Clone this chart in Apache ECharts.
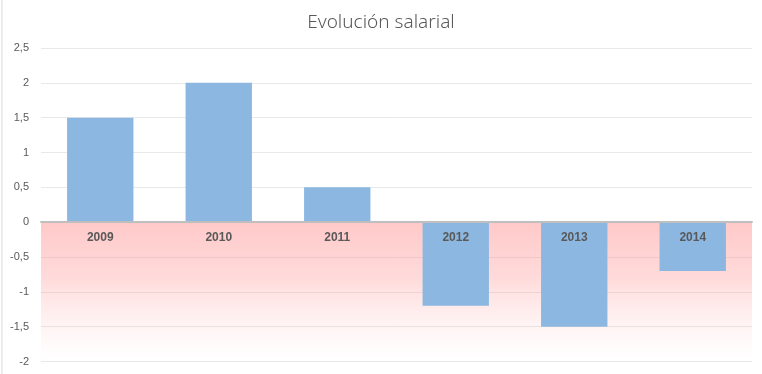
<!DOCTYPE html>
<html>
<head>
<meta charset="utf-8">
<script src="https://cdn.jsdelivr.net/npm/echarts@6/dist/echarts.min.js"></script>
<style>html,body{margin:0;padding:0;background:#fff}#c{width:762px;height:374px}</style>
</head>
<body>
<div id="c"></div>
<script>
var titleText = 'Evolución salarial';
var categories = ['2009', '2010', '2011', '2012', '2013', '2014'];
var values = [1.5, 2, 0.5, -1.2, -1.5, -0.7];
var yMin = -2, yMax = 2.5, yStep = 0.5;
var negZone = [0, -2];

var chart = echarts.init(document.getElementById('c'));
var option = {
  animation: false,
  backgroundColor: '#ffffff',
  title: {
    text: titleText,
    left: 'center',
    top: 8,
    textStyle: { fontFamily: 'Noto Sans', fontWeight: 300, fontSize: 19, color: '#595959' }
  },
  graphic: [{
    type: 'line', shape: { x1: 2, y1: 0, x2: 2, y2: 374 },
    style: { stroke: '#d9d9d9', lineWidth: 1 }
  }],
  grid: { left: 41, right: 10, top: 48, bottom: 12.5, containLabel: false, outerBoundsMode: 'none' },
  xAxis: {
    type: 'category',
    data: categories,
    z: 10,
    offset: 0,
    axisLine: { onZero: false, lineStyle: { color: '#bfbfbf', width: 2 } },
    axisTick: { show: false },
    axisLabel: { margin: 10, fontFamily: 'Liberation Sans', fontWeight: 'bold', fontSize: 12, color: '#595959' }
  },
  yAxis: {
    type: 'value', min: yMin, max: yMax, interval: yStep,
    axisLine: { show: false }, axisTick: { show: false },
    splitLine: { lineStyle: { color: '#e8e8e8', width: 1 } },
    axisLabel: {
      margin: 12, fontFamily: 'Liberation Sans', fontSize: 11, color: '#595959',
      formatter: function (v) { return String(v).replace('.', ','); }
    }
  },
  series: [
    {
      type: 'line', data: [], z: 1, silent: true,
      markArea: {
        silent: true,
        itemStyle: {
          color: {
            type: 'linear', x: 0, y: 0, x2: 0, y2: 1,
            colorStops: [
              { offset: 0, color: 'rgba(255,140,140,0.47)' },
              { offset: 0.4, color: 'rgba(255,150,150,0.35)' },
              { offset: 1, color: 'rgba(255,200,200,0)' }
            ]
          }
        },
        data: [[{ yAxis: negZone[0] }, { yAxis: negZone[1] }]]
      }
    },
    {
      type: 'bar', data: values, barWidth: '56%', z: 3,
      itemStyle: { color: '#8cb7e1' }
    }
  ]
};
chart.setOption(option);
var zeroPx = chart.convertToPixel({ yAxisIndex: 0 }, 0);
var minPx = chart.convertToPixel({ yAxisIndex: 0 }, yMin);
chart.setOption({ xAxis: { offset: -(minPx - zeroPx) } });
</script>
</body>
</html>
